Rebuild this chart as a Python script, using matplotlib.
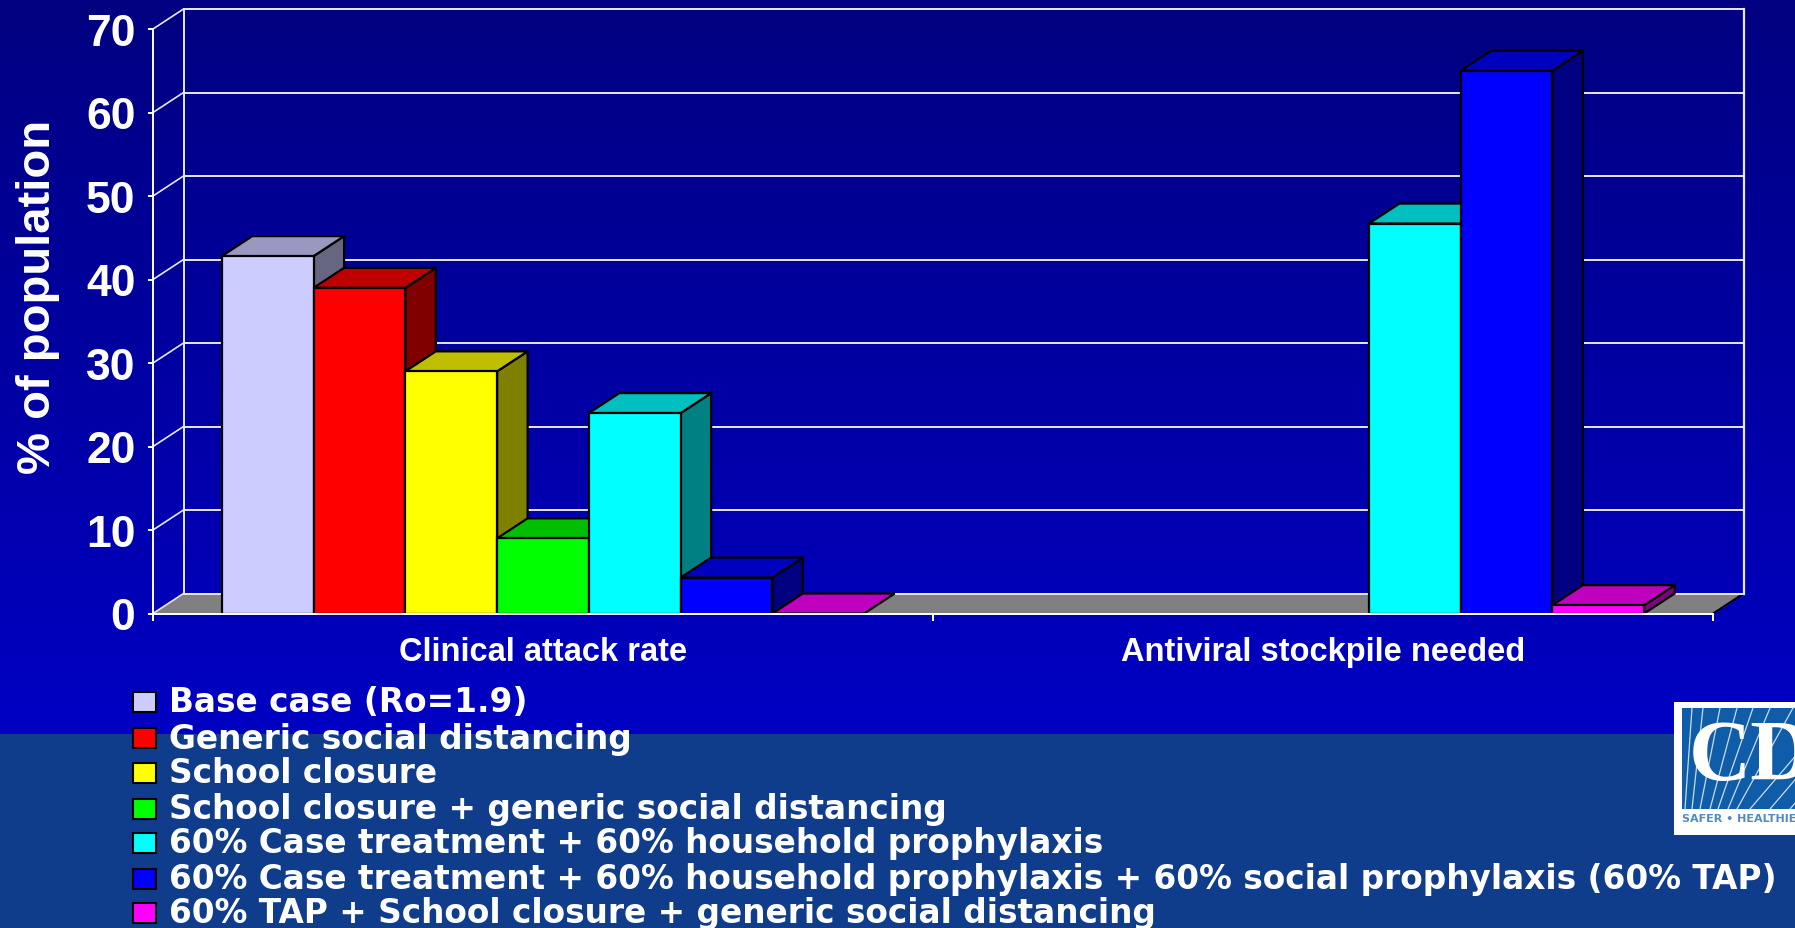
import numpy as np
import matplotlib
matplotlib.use('Agg')
import matplotlib.pyplot as plt
from matplotlib.patches import Polygon, Rectangle

plt.rcParams['font.family'] = ['Liberation Sans', 'DejaVu Sans']
plt.rcParams['font.weight'] = 'bold'

groups = ['Clinical attack rate', 'Antiviral stockpile needed']
series = ['Base case (Ro=1.9)',
          'Generic social distancing',
          'School closure',
          'School closure + generic social distancing',
          '60% Case treatment + 60% household prophylaxis',
          '60% Case treatment + 60% household prophylaxis + 60% social prophylaxis (60% TAP)',
          '60% TAP + School closure + generic social distancing']
colors = ['#CCCCFF', '#FF0000', '#FFFF00', '#00FF00', '#00FFFF', '#0000FF', '#FF00FF']

attack_rate = [42.8, 39, 29, 9, 24, 4.3, 0]
stockpile = [None, None, None, None, 46.7, 65, 1]
yticks = [0, 10, 20, 30, 40, 50, 60, 70]

W, H = 1795, 929
fig = plt.figure(figsize=(W / 100, H / 100), dpi=100)

# slide background, pixel coordinates
bg = fig.add_axes([0, 0, 1, 1])
bg.set_xlim(0, W)
bg.set_ylim(H, 0)
bg.axis('off')
grad = np.linspace(128, 196, 256).reshape(-1, 1)
img = np.dstack([np.zeros_like(grad), np.zeros_like(grad), grad]) / 255
bg.imshow(img, extent=(0, W, 735, 0), aspect='auto', zorder=0)
bg.add_patch(Rectangle((0, 735), W, H - 735, fc='#103C8C', ec='none', zorder=1))
bg.set_xlim(0, W)
bg.set_ylim(H, 0)

# logo in the corner
bg.add_patch(Rectangle((1674, 703), 125, 133, fc='white', ec='none', zorder=2))
bg.add_patch(Rectangle((1682, 709), 120, 101, fc='#0F5CA8', ec='none', zorder=3))
fan = [(1685, 1692), (1692, 1703), (1700, 1720), (1710, 1737), (1718, 1753),
       (1728, 1770), (1737, 1793)]
for low, high in fan:
    bg.plot([low, high], [810, 709], color='#C8DCEE', lw=0.9, zorder=4)
for x0, y0 in [(1750, 810), (1770, 810), (1790, 810)]:
    bg.plot([x0, x0 + 60], [y0, y0 - 70], color='#C8DCEE', lw=0.9, zorder=4)
bg.text(1689, 780, 'CD', family='Liberation Serif', fontsize=62, color='white',
        fontweight='bold', va='baseline', ha='left', zorder=5, clip_on=True)
bg.text(1682, 819, 'SAFER \u2022 HEALTHIER', family='DejaVu Sans', fontsize=8, color='#4F8CC4',
        va='center', ha='left', zorder=5)

# legend down the lower part of the slide, the wide face fills the row length
legend_y = [703, 739, 774, 810, 844, 880, 914]
for name, col, y in zip(series, colors, legend_y):
    bg.add_patch(Rectangle((133, y - 10), 23, 20, fc=col, ec='black', lw=1.5, zorder=6))
    bg.text(169, y, name, color='white', family='DejaVu Sans', fontsize=23.6,
            va='center', ha='left', zorder=6)

# chart axes, x in category units and y in percent
ax = fig.add_axes([153 / W, 1 - 614.5 / H, 1560 / W, 584.5 / H])
ax.patch.set_visible(False)
ax.set_xlim(0, 2)
ax.set_ylim(0, 70)
dx = 30.5 / 780
dy = 20 / 8.35

for s in ['top', 'right']:
    ax.spines[s].set_visible(False)
for s in ['left', 'bottom']:
    ax.spines[s].set_color('white')
    ax.spines[s].set_linewidth(1.4)
    ax.spines[s].set_zorder(8)

ax.set_yticks(yticks)
ax.set_yticklabels([str(v) for v in yticks], color='white', fontsize=32)
ax.tick_params(axis='y', color='white', width=1.4, length=3.6, pad=9)
ax.set_xticks([0, 1, 2])
ax.set_xticklabels([])
ax.tick_params(axis='x', color='white', width=1.4, length=5)
ax.set_xticks([0.5, 1.5], minor=True)
ax.set_xticklabels(groups, minor=True, color='white', fontsize=23.5)
ax.tick_params(axis='x', which='minor', length=0, pad=16)
ax.set_ylabel('% of population', color='white', fontsize=34, fontweight='bold')
ax.yaxis.set_label_coords(-0.0596, 0.544)

# floor and walls
ax.add_patch(Polygon([(0, 0), (2, 0), (2 + dx, dy), (dx, dy)], fc='#808080', ec='none',
                     clip_on=False, zorder=1))
ax.plot([2, 2 + dx], [0, dy], color='black', lw=1.4, clip_on=False, zorder=2)
for v in yticks:
    ax.plot([dx, 2 + dx], [v + dy, v + dy], color='#E8E8F4', lw=1.4, clip_on=False, zorder=2)
    ax.plot([0, dx], [v, v + dy], color='#E8E8F4', lw=1.2, clip_on=False, zorder=2)
ax.plot([dx, dx], [dy, 70 + dy], color='#E8E8F4', lw=1.4, clip_on=False, zorder=2)
ax.plot([2 + dx, 2 + dx], [dy, 70 + dy], color='#E8E8F4', lw=1.6, clip_on=False, zorder=2)


def shade(col, f):
    r, g, b = matplotlib.colors.to_rgb(col)
    return (r * f, g * f, b * f)


def bar3d(x, w, v, col, z):
    # side and top first, the front face goes over them
    kw = dict(ec='black', lw=1.6, clip_on=False, joinstyle='miter', zorder=z)
    if v > 0:
        ax.add_patch(Polygon([(x + w, 0), (x + w + dx, dy), (x + w + dx, v + dy), (x + w, v)],
                             fc=shade(col, 0.5), **kw))
    ax.add_patch(Polygon([(x, v), (x + w, v), (x + w + dx, v + dy), (x + dx, v + dy)],
                         fc=shade(col, 0.75), **kw))
    if v > 0:
        ax.add_patch(Polygon([(x, 0), (x + w, 0), (x + w, v), (x, v)], fc=col, **kw))


w = 1 / 8.5
z = 3
for g, values in enumerate([attack_rate, stockpile]):
    for i, v in enumerate(values):
        if v is None:
            continue
        bar3d(g + 0.75 * w + i * w, w, v, colors[i], z)
        z += 0.01

fig.savefig('out.png', dpi=100)
